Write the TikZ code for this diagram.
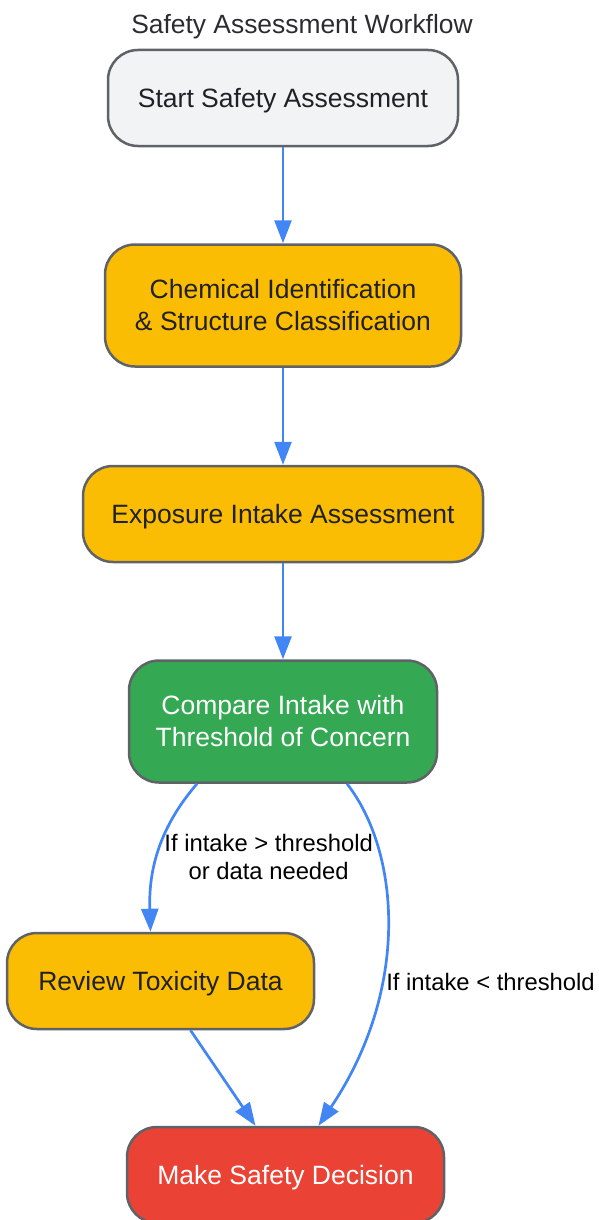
\documentclass[tikz,border=0pt]{standalone}
\usepackage{fontspec}
\setmainfont{Liberation Sans}
\usepackage{xcolor}
\definecolor{colorStart}{HTML}{F1F3F4}
\definecolor{colorStep}{HTML}{FBBC04}
\definecolor{colorCheck}{HTML}{34A853}
\definecolor{colorDecision}{HTML}{EA4335}
\definecolor{colorBorder}{HTML}{5F6368}
\definecolor{colorFlow}{HTML}{4285F4}
\definecolor{colorText}{HTML}{202124}
\usepackage{tikz}
\usetikzlibrary{arrows.meta, positioning}
\newcommand{\boxline}[1]{\raisebox{-9.5pt}[0pt][0pt]{#1}}
\tikzset{
  box/.style={draw=colorBorder, line width=2.5pt, rounded corners=30pt, align=center, inner sep=0pt, text=colorText, font=\fontsize{26.5}{32}\selectfont},
  flow/.style={->, draw=colorFlow, line width=2.7pt},
  cond/.style={align=center, inner sep=0pt, text=black, font=\fontsize{23.8}{28}\selectfont}
}

\begin{document}
\begin{tikzpicture}[x=1pt, y=-1pt, >={Triangle[length=23pt, width=17pt]}]
\useasboundingbox (0,0) rectangle (598,1220);
\node[text=colorText!95!white, font=\fontsize{26.4}{32}\selectfont] (title) at (302,26.5) {Safety Assessment Workflow};
\node[box, fill=colorStart, minimum width=350pt, minimum height=96pt] (start) at (283,98) {\boxline{Start Safety Assessment}};
\node[box, fill=colorStep, minimum width=356pt, minimum height=122pt, below=96pt of start] (chem) {Chemical Identification\\\& Structure Classification};
\node[box, fill=colorStep, minimum width=400pt, minimum height=96pt, below=97pt of chem] (expo) {\boxline{Exposure Intake Assessment}};
\node[box, fill=colorCheck, text=white, minimum width=308pt, minimum height=122pt, below=96pt of expo] (cmp) {Compare Intake with\\Threshold of Concern};
\node[box, fill=colorStep, minimum width=307pt, minimum height=96pt] (rev) at (160.5,981) {\boxline{Review Toxicity Data}};
\node[box, fill=colorDecision, text=white, minimum width=317pt, minimum height=96pt] (dec) at (285.5,1175) {\boxline{Make Safety Decision}};
% main chain
\draw[flow] (start) -- (chem);
\draw[flow] (chem) -- (expo);
\draw[flow] (expo) -- (cmp);
% branches
\draw[flow] ([xshift=-86pt]cmp.south) .. controls +(-37,43) and +(-2,-63) .. ([xshift=-10pt]rev.north) node[cond, pos=0.5, anchor=west, xshift=4pt, yshift=-7pt] {If intake > threshold\\or data needed};
\draw[flow] ([xshift=64pt]cmp.south) .. controls +(53,68) and +(92,-137) .. ([xshift=33pt]dec.north) node[cond, pos=0.65, anchor=west, xshift=5pt, yshift=3pt] {If intake < threshold};
\draw[flow] ([xshift=30pt]rev.south) -- ([xshift=-30pt]dec.north);
\end{tikzpicture}
\end{document}
